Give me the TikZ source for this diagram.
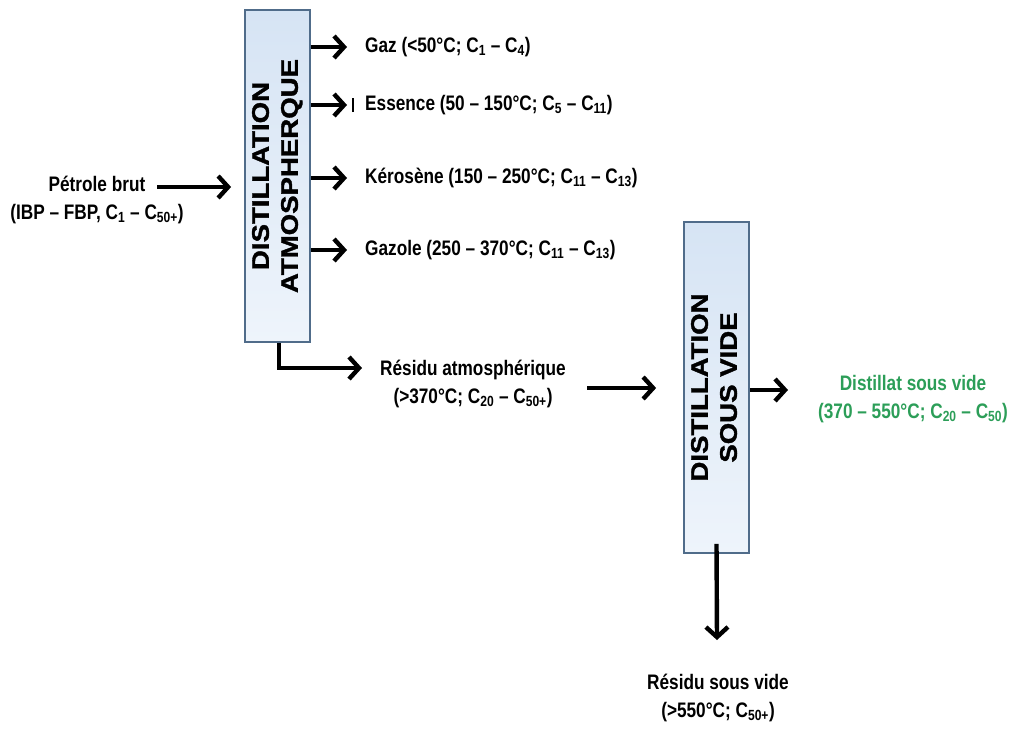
\documentclass[tikz,border=0pt]{standalone}
\usepackage{fontspec}
\setmainfont{Liberation Sans}
\newfontfamily\labfont{Liberation Sans}[Ligatures=TeX, FakeStretch=0.82]
\newfontfamily\boxfont{Liberation Sans}[Ligatures=TeX, FakeStretch=1.15, BoldFeatures={FakeBold=1.5}]
\usetikzlibrary{arrows.meta}
\newcommand\sbs[1]{\textsubscript{#1}}
\definecolor{boxline}{RGB}{80,108,138}
\definecolor{boxtop}{RGB}{214,228,244}
\definecolor{boxbot}{RGB}{238,244,251}
\definecolor{vgreen}{RGB}{44,158,88}
\tikzset{
  procbox/.style={draw=boxline, line width=1.8pt, top color=boxtop, bottom color=boxbot,
    minimum width=65pt, inner sep=0pt, font=\boxfont\bfseries\fontsize{24}{29}\selectfont},
  lab/.style={inner sep=0pt, font=\labfont\bfseries\fontsize{21}{28}\selectfont, align=center},
  arr/.style={line width=4.4pt, -{Straight Barb[length=10pt,width=22pt]}},
}
\begin{document}
\begin{tikzpicture}[x=1pt,y=-1pt]
\useasboundingbox (0,0) rectangle (1016,734);
% boxes
\node[procbox, minimum height=332pt] (atm) at (277.5,176)
  {\rotatebox{90}{\begin{tabular}{@{}c@{}}DISTILLATION\\ATMOSPHERQUE\end{tabular}}};
\node[procbox, minimum height=331pt] (vac) at (716.5,387.5)
  {\rotatebox{90}{\begin{tabular}{@{}c@{}}DISTILLATION\\SOUS VIDE\end{tabular}}};
% labels
\node[lab] (pet) at (97,200) {P\'etrole brut\\(IBP -- FBP, C\sbs{1} -- C\sbs{50+})};
\node[lab, anchor=west] (gaz) at (365,47) {Gaz (<50°C; C\sbs{1} -- C\sbs{4})};
\node[lab, anchor=west] (ess) at (365,105) {Essence (50 -- 150°C; C\sbs{5} -- C\sbs{11})};
\node[lab, anchor=west] (ker) at (365,178) {K\'eros\`ene (150 -- 250°C; C\sbs{11} -- C\sbs{13})};
\node[lab, anchor=west] (gzl) at (365,250) {Gazole (250 -- 370°C; C\sbs{11} -- C\sbs{13})};
\node[lab] (ratm) at (473,384) {R\'esidu atmosph\'erique\\(>370°C; C\sbs{20} -- C\sbs{50+})};
\node[lab, text=vgreen] (dist) at (913,399) {Distillat sous vide\\(370 -- 550°C; C\sbs{20} -- C\sbs{50})};
\node[lab] (rsv) at (718,698) {R\'esidu sous vide\\(>550°C; C\sbs{50+})};
% free ends
\coordinate (pin) at (157,187);
\coordinate (raend) at (362,368);
\coordinate (rastart) at (587,388);
\coordinate (dvend) at (788,390);
\coordinate (rsvend) at (717,640);
% connectors
\draw[arr] (pin) -- ([xshift=-13pt]pin -| atm.west);
\draw[arr] (atm.east |- gaz.west) -- ([xshift=-18pt]gaz.west);
\draw[arr] (atm.east |- ess.west) -- ([xshift=-18pt]ess.west);
\draw[arr] (atm.east |- ker.west) -- ([xshift=-18pt]ker.west);
\draw[arr] (atm.east |- gzl.west) -- ([xshift=-18pt]gzl.west);
\draw[line width=1.4pt] ([xshift=-12pt,yshift=-7pt]ess.west) -- ([xshift=-12pt,yshift=7pt]ess.west);
\draw[arr] ([xshift=1.5pt]atm.south) |- (raend);
\draw[arr] (rastart) -- ([xshift=-27pt]rastart -| vac.west);
\draw[arr] (vac.east |- dvend) -- (dvend);
\draw[arr] ([yshift=10pt]vac.south) -- (rsvend);
\end{tikzpicture}
\end{document}
